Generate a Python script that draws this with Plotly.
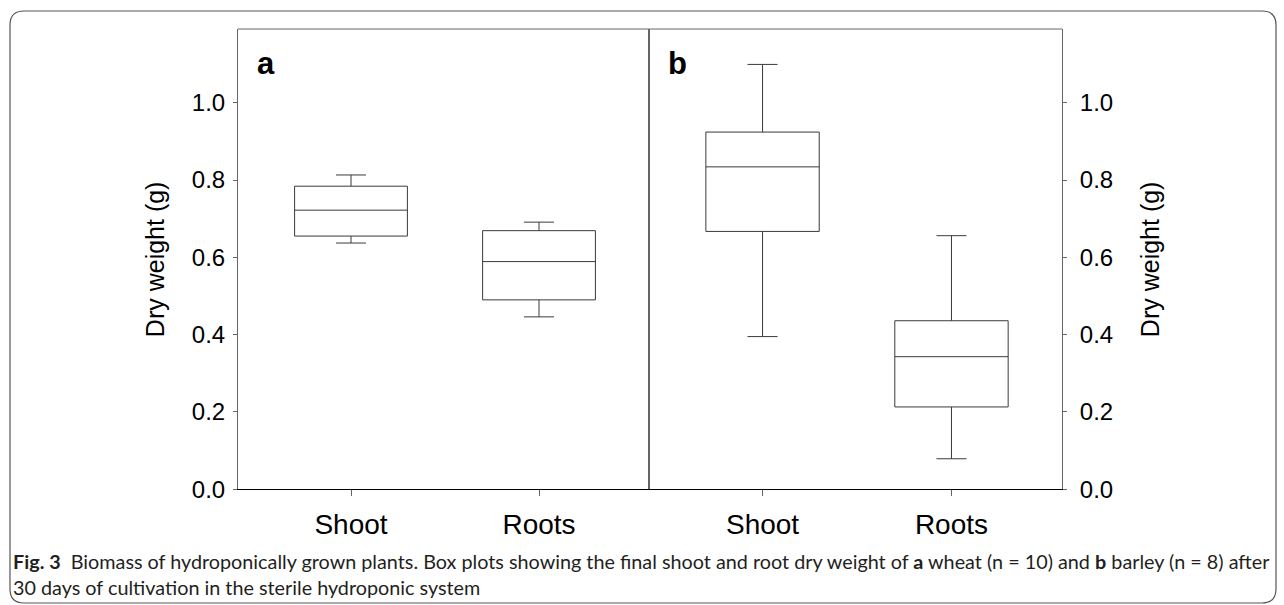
import plotly.graph_objects as go

# ---- data ----
categories = ["Shoot", "Roots"]
cat_pos = [0, 1]

# panel a: wheat
a_lower = [0.637, 0.446]
a_q1 = [0.655, 0.490]
a_median = [0.722, 0.589]
a_q3 = [0.784, 0.669]
a_upper = [0.813, 0.691]

# panel b: barley
b_lower = [0.395, 0.079]
b_q1 = [0.667, 0.213]
b_median = [0.834, 0.343]
b_q3 = [0.924, 0.436]
b_upper = [1.099, 0.656]

y_ticks = [0.0, 0.2, 0.4, 0.6, 0.8, 1.0]
y_ticktext = ["0.0", "0.2", "0.4", "0.6", "0.8", "1.0"]

W, H = 1284, 605
def px(x):
    return x / W
def py(y):
    return 1 - y / H

left, mid, right = 238, 649, 1062
top, bottom = 29, 489.3

FONT = "Liberation Sans, Arial, sans-serif"
LINE = "#3a3a3a"
FRAME = "#666666"

fig = go.Figure()

box_style = dict(boxpoints=False, width=0.6, whiskerwidth=0.265,
                 fillcolor="white", line=dict(color=LINE, width=1),
                 showlegend=False, hoverinfo="skip")

fig.add_trace(go.Box(x=cat_pos, q1=a_q1, median=a_median, q3=a_q3,
                     lowerfence=a_lower, upperfence=a_upper,
                     xaxis="x", yaxis="y", **box_style))
fig.add_trace(go.Box(x=cat_pos, q1=b_q1, median=b_median, q3=b_q3,
                     lowerfence=b_lower, upperfence=b_upper,
                     xaxis="x2", yaxis="y2", **box_style))

xr = [-0.601, 1.585]
yr = [0, 1.1906]

xcommon = dict(range=xr, tickvals=cat_pos, ticktext=categories,
               showline=True, linecolor="black", linewidth=1,
               ticks="outside", ticklen=6, tickcolor=FRAME, tickwidth=1,
               showgrid=False, zeroline=False, fixedrange=True, automargin=False,
               tickfont=dict(family=FONT, size=28, color="black"),
               ticklabelstandoff=4)
ycommon = dict(range=yr, tickvals=y_ticks, ticktext=y_ticktext,
               showline=True, linecolor=FRAME, linewidth=1, mirror=True,
               ticks="outside", ticklen=4, tickcolor=FRAME, tickwidth=1,
               showgrid=False, zeroline=False, fixedrange=True, automargin=False,
               tickfont=dict(family=FONT, size=24, color="black"),
               domain=[py(bottom), py(top)])

fig.update_layout(
    width=W, height=H, autosize=False,
    margin=dict(l=0, r=0, t=0, b=0, pad=0),
    paper_bgcolor="white", plot_bgcolor="white",
    xaxis=dict(domain=[px(left), px(mid)], anchor="y", **xcommon),
    yaxis=dict(anchor="x", side="left", ticklabelstandoff=3, **ycommon),
    xaxis2=dict(domain=[px(mid), px(right)], anchor="y2", **xcommon),
    yaxis2=dict(anchor="x2", side="right", ticklabelstandoff=8, **ycommon),
)

# top frame line and outer rounded border
shapes = [
    dict(type="line", xref="paper", yref="paper", x0=px(left), x1=px(right),
         y0=py(top), y1=py(top), line=dict(color=FRAME, width=1)),
]
bx0, by0, bx1, by1, r = 10, 11, 1276, 603, 14
path = (f"M {px(bx0)},{py(by0 + r)} "
        f"Q {px(bx0)},{py(by0)} {px(bx0 + r)},{py(by0)} "
        f"L {px(bx1 - r)},{py(by0)} "
        f"Q {px(bx1)},{py(by0)} {px(bx1)},{py(by0 + r)} "
        f"L {px(bx1)},{py(by1 - r)} "
        f"Q {px(bx1)},{py(by1)} {px(bx1 - r)},{py(by1)} "
        f"L {px(bx0 + r)},{py(by1)} "
        f"Q {px(bx0)},{py(by1)} {px(bx0)},{py(by1 - r)} Z")
shapes.append(dict(type="path", xref="paper", yref="paper", path=path,
                   line=dict(color="#555555", width=1.2)))
fig.update_layout(shapes=shapes)

annotations = [
    dict(text="<b>a</b>", x=px(255), y=py(44), xref="paper", yref="paper",
         xanchor="left", yanchor="top", showarrow=False,
         font=dict(family=FONT, size=31, color="black")),
    dict(text="<b>b</b>", x=px(666), y=py(44), xref="paper", yref="paper",
         xanchor="left", yanchor="top", showarrow=False,
         font=dict(family=FONT, size=31, color="black")),
    dict(text="Dry weight (g)", x=px(155), y=py((top + bottom) / 2),
         xref="paper", yref="paper", xanchor="center", yanchor="middle",
         textangle=-90, showarrow=False,
         font=dict(family=FONT, size=25, color="black")),
    dict(text="Dry weight (g)", x=px(1150), y=py((top + bottom) / 2),
         xref="paper", yref="paper", xanchor="center", yanchor="middle",
         textangle=-90, showarrow=False,
         font=dict(family=FONT, size=25, color="black")),
    dict(text=("<b>Fig. 3</b>  Biomass of hydroponically grown plants. Box plots showing the final shoot "
               "and root dry weight of <b>a</b> wheat (n = 10) and <b>b</b> barley (n = 8) after"
               "<br>30 days of cultivation in the sterile hydroponic system"),
         x=px(11), y=py(547), xref="paper", yref="paper",
         xanchor="left", yanchor="top", align="left", showarrow=False,
         font=dict(family="Lato, Open Sans, sans-serif", size=19.8, color="#231f20")),
]
fig.update_layout(annotations=annotations)

post = (
    "document.documentElement.style.margin='0px';"
    "document.body.style.margin='0px';"
    "document.body.style.padding='0px';"
)
fig.write_html("out.html", config={"displayModeBar": False}, post_script=post)
